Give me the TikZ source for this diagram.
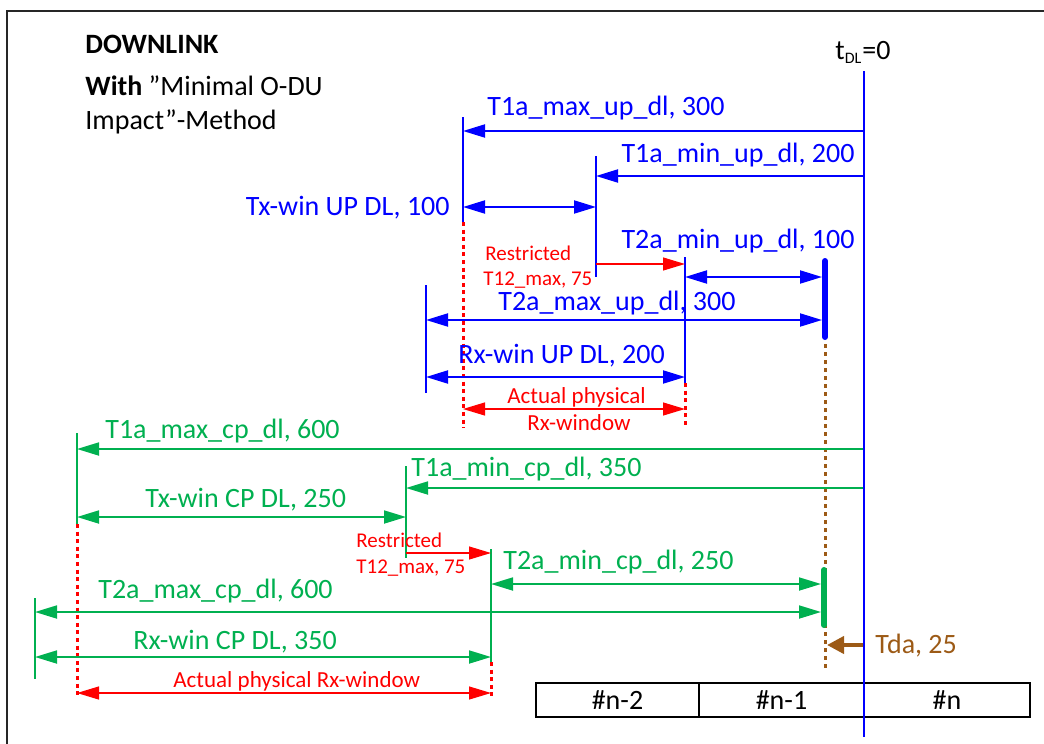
\documentclass[tikz,border=0pt]{standalone}
\usepackage{fontspec}
\setmainfont{Carlito}
\usetikzlibrary{arrows.meta}
\definecolor{ogreen}{HTML}{00B050}
\definecolor{brn}{HTML}{9C5A16}
\begin{document}
\begin{tikzpicture}[x=0.5pt,y=-0.5pt,
  lbl/.style={inner sep=0pt, anchor=base west, font=\fontsize{14}{16}\selectfont},
  lble/.style={lbl, anchor=base east},
  rtxt/.style={inner sep=0pt, anchor=base west, text=red, font=\fontsize{10.5}{12}\selectfont},
  rtxtb/.style={rtxt, font=\fontsize{11.5}{13}\selectfont},
  bl/.style={draw=blue, line width=1pt},
  gr/.style={draw=ogreen, line width=0.9pt},
  rd/.style={draw=red, line width=0.6pt},
  rdot/.style={draw=red, line width=1.5pt, dash pattern=on 2pt off 1.8pt},
  bdot/.style={draw=brn, line width=1.5pt, dash pattern=on 2pt off 2pt},
  ah/.style={-{Triangle[length=11pt,width=6.5pt]}},
  dah/.style={{Triangle[length=11pt,width=6.5pt]}-{Triangle[length=11pt,width=6.5pt]}},
  slot/.style={draw=black, line width=0.8pt, minimum height=17pt, inner sep=0pt, font=\fontsize{14}{16}\selectfont}
]
\useasboundingbox (0,0) rectangle (1044,744);
% frame
\coordinate (fr1) at (7,744); \coordinate (fr2) at (7,11); \coordinate (fr3) at (1044,11);
\draw[line width=1pt, black!85] (fr1) -- (fr2) -- (fr3);

% title
\node[lbl, font=\fontsize{14}{16}\selectfont\bfseries] (title) at (85,54) {DOWNLINK};
\node[lbl] (sub1) at (85,95) {\textbf{With} ”Minimal O-DU};
\node[lbl] (sub2) at (85,129) {Impact”-Method};
\node[lbl] (tdl) at (835,59) {t\textsubscript{\fontsize{8}{9}\selectfont DL}=0};

% slots
\node[slot, minimum width=81.5pt] (s2) at (617.5,700) {\#n-2};
\node[slot, minimum width=82.5pt] (s1) at (781.5,700) {\#n-1};
\node[slot, minimum width=83pt] (s0) at (947,700) {\#n};

% ---------- coordinates (blue / UP) ----------
\coordinate (t0) at (864,71); \coordinate (t0b) at (864,737);
\coordinate (a1) at (463,117); \coordinate (a2) at (463,222); \coordinate (a3) at (463,428);
\coordinate (b1) at (596,156); \coordinate (b2) at (596,277);
\coordinate (c1) at (685,257); \coordinate (c2) at (685,383); \coordinate (c3) at (685,428);
\coordinate (d1) at (426,285); \coordinate (d2) at (426,393);
\coordinate (u1) at (825,261); \coordinate (u2) at (825,337);
\coordinate (br1) at (825,344); \coordinate (br2) at (825,668);
\coordinate (p1s) at (864,131); \coordinate (p1e) at (463,131);
\coordinate (p2s) at (864,176); \coordinate (p2e) at (596,176);
\coordinate (p3s) at (463,207); \coordinate (p3e) at (596,207);
\coordinate (r1s) at (596,264); \coordinate (r1e) at (685,264);
\coordinate (p4s) at (685,277); \coordinate (p4e) at (822,277);
\coordinate (p5s) at (426,320); \coordinate (p5e) at (822,320);
\coordinate (p6s) at (426,377); \coordinate (p6e) at (685,377);
\coordinate (r2s) at (463,409); \coordinate (r2e) at (685,409);

% ---------- coordinates (green / CP) ----------
\coordinate (e1) at (77,433); \coordinate (e2) at (77,524); \coordinate (e3) at (77,698);
\coordinate (f1) at (406,466); \coordinate (f2) at (406,558);
\coordinate (h1) at (491,549); \coordinate (h2) at (491,662); \coordinate (h3) at (491,698);
\coordinate (k1) at (35,598); \coordinate (k2) at (35,679);
\coordinate (g1) at (824,570); \coordinate (g2) at (824,625);
\coordinate (q1s) at (864,449); \coordinate (q1e) at (77,449);
\coordinate (q2s) at (864,488); \coordinate (q2e) at (406,488);
\coordinate (q3s) at (77,517); \coordinate (q3e) at (406,517);
\coordinate (r3s) at (406,553); \coordinate (r3e) at (491,553);
\coordinate (q4s) at (491,584); \coordinate (q4e) at (821,584);
\coordinate (q5s) at (35,612); \coordinate (q5e) at (821,612);
\coordinate (q6s) at (35,657); \coordinate (q6e) at (491,657);
\coordinate (r4s) at (77,693); \coordinate (r4e) at (491,693);
\coordinate (tas) at (864,645); \coordinate (tae) at (827,645);

% ---------- dotted guides ----------
\draw[rdot] (a2) -- (a3);
\draw[rdot] (c2) -- (c3);
\draw[rdot] (e2) -- (e3);
\draw[rdot] (h2) -- (h3);
\draw[bdot] (br1) -- (br2);

% ---------- blue ticks and arrows ----------
\draw[bl] (a1) -- (a2);
\draw[bl] (b1) -- (b2);
\draw[bl] (c1) -- (c2);
\draw[bl] (d1) -- (d2);
\draw[draw=blue, line width=3pt, line cap=round] (u1) -- (u2);
\draw[bl,ah] (p1s) -- (p1e);
\draw[bl,ah] (p2s) -- (p2e);
\draw[bl,dah] (p3s) -- (p3e);
\draw[rd,ah] (r1s) -- (r1e);
\draw[bl,dah] (p4s) -- (p4e);
\draw[bl,dah] (p5s) -- (p5e);
\draw[bl,dah] (p6s) -- (p6e);
\draw[rd,dah] (r2s) -- (r2e);

% ---------- green ticks and arrows ----------
\draw[gr] (e1) -- (e2);
\draw[gr] (f1) -- (f2);
\draw[gr] (h1) -- (h2);
\draw[gr] (k1) -- (k2);
\draw[draw=ogreen, line width=3pt, line cap=round] (g1) -- (g2);
\draw[gr,ah] (q1s) -- (q1e);
\draw[gr,ah] (q2s) -- (q2e);
\draw[gr,dah] (q3s) -- (q3e);
\draw[rd,ah] (r3s) -- (r3e);
\draw[gr,dah] (q4s) -- (q4e);
\draw[gr,dah] (q5s) -- (q5e);
\draw[gr,dah] (q6s) -- (q6e);
\draw[rd,dah] (r4s) -- (r4e);
\draw[draw=brn, line width=2pt, -{Triangle[length=8.5pt,width=8.5pt]}] (tas) -- (tae);

% main time line
\draw[draw=blue, line width=1.2pt] (t0) -- (t0b);

% ---------- blue labels ----------
\node[lbl, text=blue] (l1) at (487,115) {T1a\_max\_up\_dl, 300};
\node[lble, text=blue] (l2) at (855,162) {T1a\_min\_up\_dl, 200};
\node[lble, text=blue] (l3) at (450,215) {Tx-win UP DL, 100};
\node[rtxt] (l4a) at (485,260) {Restricted};
\node[rtxt] (l4b) at (483,285) {T12\_max, 75};
\node[lble, text=blue] (l5) at (855,248) {T2a\_min\_up\_dl, 100};
\node[lbl, text=blue] (l6) at (498,310) {T2a\_max\_up\_dl, 300};
\node[lbl, text=blue] (l7) at (458,363) {Rx-win UP DL, 200};
\node[rtxtb] (l8a) at (507,403) {Actual physical};
\node[rtxtb] (l8b) at (527,430) {Rx-window};

% ---------- green labels ----------
\node[lbl, text=ogreen] (m1) at (105,438) {T1a\_max\_cp\_dl, 600};
\node[lble, text=ogreen] (m2) at (642,476) {T1a\_min\_cp\_dl, 350};
\node[lbl, text=ogreen] (m3) at (145,507) {Tx-win CP DL, 250};
\node[rtxt] (m4a) at (356,547) {Restricted};
\node[rtxt] (m4b) at (356,573) {T12\_max, 75};
\node[lbl, text=ogreen] (m5) at (503,569) {T2a\_min\_cp\_dl, 250};
\node[lbl, text=ogreen] (m6) at (98,598) {T2a\_max\_cp\_dl, 600};
\node[lbl, text=ogreen] (m7) at (133,649) {Rx-win CP DL, 350};
\node[rtxtb] (m8) at (173,687) {Actual physical Rx-window};
\node[lbl, text=brn] (tda) at (875,653) {Tda, 25};
\end{tikzpicture}
\end{document}
